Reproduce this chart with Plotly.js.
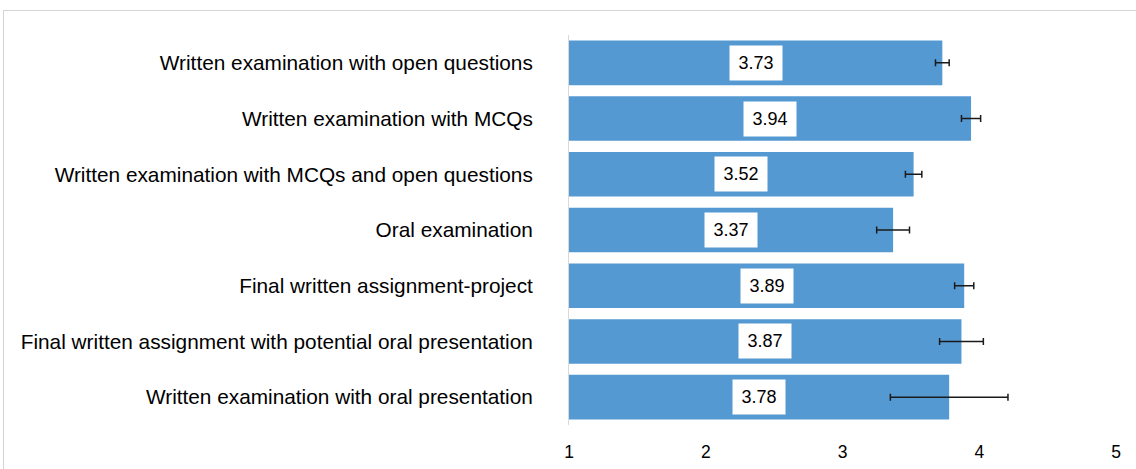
<!DOCTYPE html>
<html>
<head>
<meta charset="utf-8">
<script src="https://cdn.plot.ly/plotly-3.0.1.min.js"></script>
<style>
  html, body { margin: 0; padding: 0; background: #fff; }
  #wrap { position: relative; width: 1136px; height: 469px; overflow: hidden; }
  #chart { position: absolute; left: 0; top: 0; width: 1136px; height: 469px; }
  #frame { position: absolute; left: 3px; top: 10px; width: 1200px; height: 600px;
           border-top: 1px solid #d4d4d4; border-left: 1px solid #d4d4d4; pointer-events: none; }
</style>
</head>
<body>
<div id="wrap">
  <div id="chart"></div>
  <div id="frame"></div>
</div>
<script>
const categories = [
  "Written examination with open questions",
  "Written examination with MCQs",
  "Written examination with MCQs and open questions",
  "Oral examination",
  "Final written assignment-project",
  "Final written assignment with potential oral presentation",
  "Written examination with oral presentation"
];
const means = [3.73, 3.94, 3.52, 3.37, 3.89, 3.87, 3.78];
const errors = [0.05, 0.07, 0.06, 0.12, 0.07, 0.16, 0.43];
const xTicks = [1, 2, 3, 4, 5];
const axisStart = 1;

const font = "Liberation Sans, Arial, sans-serif";

const trace = {
  type: "bar",
  orientation: "h",
  y: categories,
  x: means.map(v => v - axisStart),
  base: axisStart,
  marker: { color: "#5599d3", line: { width: 0 } },
  error_x: { type: "data", array: errors, visible: true, color: "#1a1a1a", thickness: 1.5, width: 3.5 },
  hoverinfo: "skip"
};

const annotations = categories.map((c, i) => ({
  x: (axisStart + means[i]) / 2,
  y: c,
  xref: "x", yref: "y",
  text: means[i].toFixed(2),
  showarrow: false,
  bgcolor: "#ffffff",
  width: 42, height: 24,
  borderpad: 5,
  font: { family: font, size: 18, color: "#000" }
}));

const layout = {
  width: 1136, height: 469,
  margin: { l: 569, r: 20, t: 35, b: 44 },
  paper_bgcolor: "#fff", plot_bgcolor: "#fff",
  bargap: 0.2,
  showlegend: false,
  xaxis: {
    range: [1, 5], tickvals: xTicks, ticktext: xTicks.map(String),
    showgrid: false, zeroline: false, showline: false, ticks: "",
    ticklabelstandoff: 14,
    tickfont: { family: font, size: 17.5, color: "#000" }
  },
  yaxis: {
    autorange: "reversed", showgrid: false, zeroline: false,
    showline: true, linecolor: "#d9d9d9", linewidth: 1, ticks: "",
    ticklabelstandoff: 31,
    tickfont: { family: font, size: 20.8, color: "#000" }
  },
  annotations: annotations
};

Plotly.newPlot("chart", [trace], layout, { displayModeBar: false, staticPlot: true });
</script>
</body>
</html>
